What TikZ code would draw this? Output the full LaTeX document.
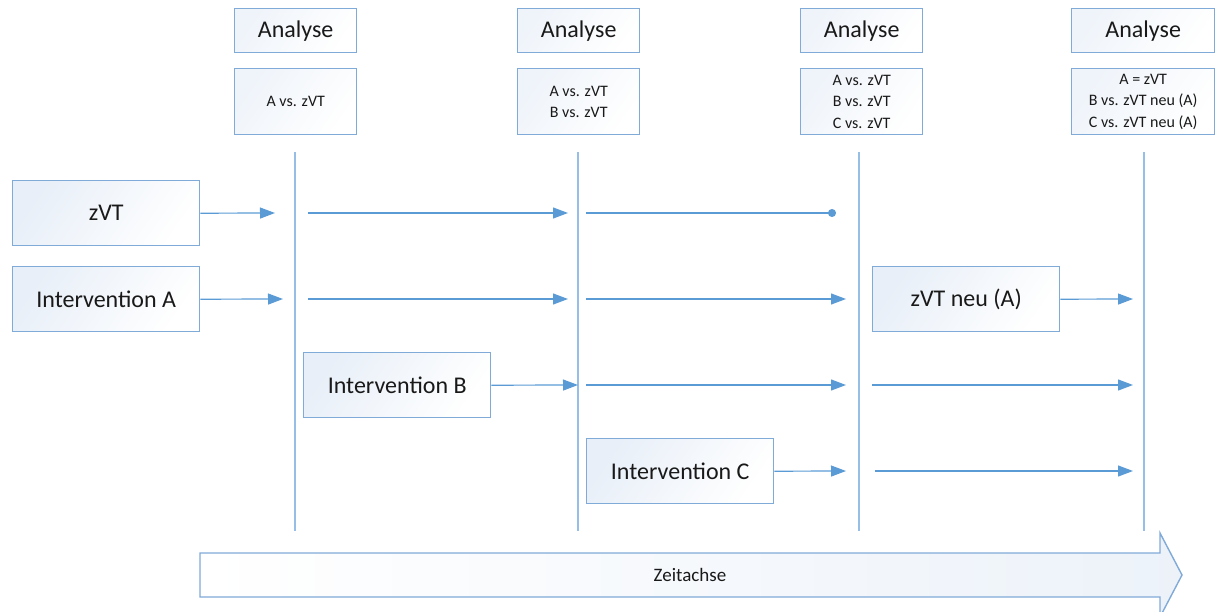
\documentclass[tikz,border=0pt]{standalone}
\usepackage{fontspec}
\setmainfont{Carlito}
\usetikzlibrary{arrows.meta}
\definecolor{boxline}{RGB}{128,170,216}
\definecolor{boxfill}{RGB}{232,239,248}
\definecolor{arrowcol}{RGB}{91,155,213}
\definecolor{vlinecol}{RGB}{150,190,230}
\begin{document}
\begin{tikzpicture}[x=1pt,y=-1pt,
  every node/.style={font=\fontsize{24}{29}\selectfont, text=black!90},
  box/.style={draw=boxline, line width=1.4pt, left color=boxfill, right color=white, shading angle=55, minimum width=187pt, minimum height=65pt, anchor=north west, inner sep=0pt},
  abox/.style={draw=boxline, line width=1.4pt, left color=boxfill!70, right color=white, shading angle=55, minimum width=122pt, minimum height=44pt, anchor=north west, inner sep=0pt},
  dbox/.style={draw=boxline, line width=1.4pt, left color=boxfill!70, right color=white, shading angle=55, minimum width=122pt, minimum height=66pt, anchor=north west, inner sep=0pt, align=center, font=\fontsize{16}{21.5}\selectfont},
  flow/.style={draw=arrowcol, line width=1.2pt, -{Triangle[length=15pt,width=11pt]}},
  dotflow/.style={draw=arrowcol, line width=1.2pt, -{Circle[length=8pt]}},
  vline/.style={draw=vlinecol, line width=1.5pt}
]
\useasboundingbox (0,0) rectangle (1215,612);

% Analyse headers
\node[abox] (an1) at (234,8) {Analyse};
\node[abox] (an2) at (517,8) {Analyse};
\node[abox] (an3) at (800,8) {Analyse};
\node[abox, minimum width=143pt] (an4) at (1071,8) {Analyse};

% detail boxes
\node[dbox] (d1) at (234,68) {A vs. zVT};
\node[dbox] (d2) at (517,68) {A vs. zVT\\B vs. zVT};
\node[dbox] (d3) at (800,68) {A vs. zVT\\B vs. zVT\\C vs. zVT};
\node[dbox, minimum width=143pt] (d4) at (1071,68) {A = zVT\\B vs. zVT neu (A)\\C vs. zVT neu (A)};

% vertical time lines
\foreach \i/\x in {1/295,2/578,3/859,4/1144}{
  \coordinate (t\i) at (\x,152);
  \coordinate (b\i) at (\x,531);
  \draw[vline] (t\i) -- (b\i);
}

% boxes
\node[box] (zvt) at (12,180) {zVT};
\node[box] (ia) at (12,266) {Intervention A};
\node[box] (ib) at (303,352) {Intervention B};
\node[box] (ic) at (586,438) {Intervention C};
\node[box] (zn) at (872,266) {zVT neu (A)};

% coordinates for free arrow ends
\coordinate (r1a) at (275,213);
\coordinate (r1b) at (308,213);
\coordinate (r1c) at (568,213);
\coordinate (r1d) at (586,213);
\coordinate (r1e) at (836,213);

\coordinate (r2a) at (283,299);
\coordinate (r2b) at (308,299);
\coordinate (r2c) at (568,299);
\coordinate (r2d) at (586,299);
\coordinate (r2e) at (846,299);
\coordinate (r2f) at (1133,299);

\coordinate (r3a) at (578,385);
\coordinate (r3b) at (586,385);
\coordinate (r3c) at (846,385);
\coordinate (r3d) at (872,385);
\coordinate (r3e) at (1133,385);

\coordinate (r4a) at (846,471);
\coordinate (r4b) at (875,471);
\coordinate (r4c) at (1133,471);

% row 1
\draw[flow] (zvt.east) -- (r1a);
\draw[flow] (r1b) -- (r1c);
\draw[dotflow] (r1d) -- (r1e);
% row 2
\draw[flow] (ia.east) -- (r2a);
\draw[flow] (r2b) -- (r2c);
\draw[flow] (r2d) -- (r2e);
\draw[flow] (zn.east) -- (r2f);
% row 3
\draw[flow] (ib.east) -- (r3a);
\draw[flow] (r3b) -- (r3c);
\draw[flow] (r3d) -- (r3e);
% row 4
\draw[flow] (ic.east) -- (r4a);
\draw[flow] (r4b) -- (r4c);

% time axis
\draw[draw=boxline, line width=1.4pt, left color=white, right color=boxfill!80, shading angle=90]
  (200,553) -- (1160,553) -- (1160,533) -- (1182,575) -- (1160,617) -- (1160,597) -- (200,597) -- cycle;
\node[font=\fontsize{19}{23}\selectfont] (zeit) at (690,575) {Zeitachse};
\end{tikzpicture}
\end{document}
